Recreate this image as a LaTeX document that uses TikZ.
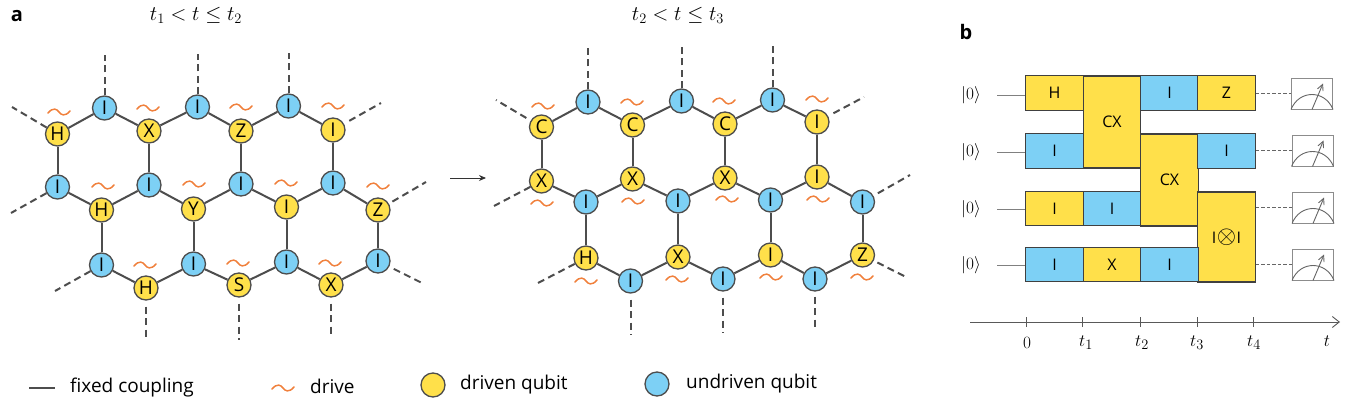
\documentclass[tikz,border=0pt]{standalone}
\usepackage{fontspec}
\setmainfont{Open Sans}
\usetikzlibrary{arrows.meta}
\definecolor{qy}{HTML}{FFE04A}
\definecolor{qb}{HTML}{7DD0F5}
\definecolor{edgec}{HTML}{4D4D4D}
\definecolor{orangec}{HTML}{F0803C}
\tikzset{
  x=1pt,y=-1pt,
  qubit/.style={circle,draw=edgec,line width=1.3pt,minimum size=24pt,inner sep=0pt,font=\fontsize{19}{19}\selectfont},
  dq/.style={qubit,fill=qy},
  uq/.style={qubit,fill=qb},
  coupling/.style={draw=edgec,line width=2pt},
  stubline/.style={draw=edgec,line width=2pt,dash pattern=on 7pt off 4.5pt},
  drive/.style={draw=orangec,line width=1.5pt,line cap=round},
  pics/wave/.style={code={\draw[drive] (-11,1) .. controls (-6,-5) and (-2,-3) .. (0,0) .. controls (2,3) and (6,5) .. (11,-1);}},
  gate/.style={draw=black!75,line width=1.1pt,inner sep=0pt,font=\fontsize{16}{16}\selectfont,anchor=center},
  gy/.style={gate,fill=qy},
  gb/.style={gate,fill=qb},
  ket/.style={inner sep=0pt,minimum width=52pt,font=\fontsize{19}{19}\selectfont},
  wire/.style={draw=black!50,line width=1pt},
  dwire/.style={draw=black!60,line width=1pt,dash pattern=on 3.5pt off 2pt},
  meter/.style={draw=black!45,line width=1pt,inner sep=0pt,minimum width=41pt,minimum height=31pt,fill=white},
  metermark/.style={draw=black!60,line width=.9pt},
  lab/.style={inner sep=0pt,font=\fontsize{19}{19}\selectfont},
  math/.style={inner sep=0pt,font=\fontsize{22}{22}\selectfont},
  ticklab/.style={inner sep=0pt,font=\fontsize{19}{19}\selectfont},
  panel/.style={inner sep=0pt,font=\fontsize{20}{20}\selectfont\bfseries},
}
\newcommand{\meterat}[3]{%
  \node[meter] (#1) at (#2,#3) {};
  \draw[metermark] (#1.south west) .. controls ([shift={(8,-20)}]#1.south west) and ([shift={(-8,-20)}]#1.south east) .. (#1.south east);
  \draw[metermark,-{Straight Barb[length=6pt,width=6pt]}] (#1.south) -- ([shift={(11,-26)}]#1.south);
}
\begin{document}
\begin{tikzpicture}
\useasboundingbox (0,0) rectangle (1347,407);
\node[panel] (pa) at (17,16) {a};
\node[panel] (pb) at (966,32) {b};
\node[math] (ta) at (196,15) {$t_1 < t \leq t_2$};
\node[math] (tb) at (678,15) {$t_2 < t \leq t_3$};

% left lattice
\node[uq] (a1) at (104.5,108) {I};
\node[uq] (a2) at (197.5,107) {I};
\node[uq] (a3) at (288.5,106) {I};
\node[dq] (b1) at (57.5,134) {H};
\node[dq] (b2) at (149,131) {X};
\node[dq] (b3) at (241,131) {Z};
\node[dq] (b4) at (333,130) {I};
\node[uq] (c1) at (57.5,187) {I};
\node[uq] (c2) at (149,185) {I};
\node[uq] (c3) at (241,184) {I};
\node[uq] (c4) at (333,183) {I};
\node[dq] (d1) at (101.5,210) {H};
\node[dq] (d2) at (193.5,209) {Y};
\node[dq] (d3) at (286.5,207) {I};
\node[dq] (d4) at (378,210) {Z};
\node[uq] (e1) at (101.5,265) {I};
\node[dq] (e2) at (146,288) {H};
\node[uq] (e3) at (193.5,264) {I};
\node[dq] (e4) at (239,285) {S};
\node[uq] (e5) at (286.5,262) {I};
\node[dq] (e6) at (331,285) {X};
\node[uq] (e7) at (378,261) {I};
\foreach \p/\q in {b1/a1,a1/b2,b2/a2,a2/b3,b3/a3,a3/b4,b1/c1,b2/c2,b3/c3,b4/c4,
  c1/d1,d1/c2,c2/d2,d2/c3,c3/d3,d3/c4,c4/d4,d1/e1,d2/e3,d3/e5,d4/e7,
  e1/e2,e2/e3,e3/e4,e4/e5,e5/e6,e6/e7}
  \draw[coupling] (\p) -- (\q);
\foreach \n/\x/\y in {a1l/104.5/55,a2l/197.5/54,a3l/288.5/53,b1l/12/107,b4l/381/103,c1l/11/213,d4l/426/182,e1l/55/291,e7l/422/283,e2l/146/341,e4l/239/340,e6l/331/338}
  \coordinate (\n) at (\x,\y);
\foreach \p/\q in {a1/a1l,a2/a2l,a3/a3l,e1/e1l,c1/c1l}
  \draw[stubline] (\p) -- (\q);
\draw[stubline] (b1) -- (b1l);
\draw[stubline,shorten <=6pt] (b4) -- (b4l);
\draw[stubline,shorten <=4pt] (d4) -- (d4l);
\draw[stubline,shorten <=5pt] (e7) -- (e7l);
\draw[stubline,shorten <=6pt] (e2) -- (e2l);
\draw[stubline,shorten <=6pt] (e4) -- (e4l);
\draw[stubline,shorten <=6pt] (e6) -- (e6l);
\foreach \x/\y in {59/112,148/108,241/107,333/106,103/186,194/184,286/183,378/186,145/265,238/263,330/263}
  \pic at (\x,\y) {wave};

% arrow
\coordinate (ars) at (450,178);
\coordinate (are) at (486,178);
\draw[-{Stealth[length=7pt,width=6pt]},line width=.9pt,draw=black!80] (ars) -- (are);

% right lattice
\node[uq] (f1) at (588,102) {I};
\node[uq] (f2) at (681.5,101) {I};
\node[uq] (f3) at (772.5,100) {I};
\node[dq] (g1) at (541.5,127) {C};
\node[dq] (g2) at (632.5,125) {C};
\node[dq] (g3) at (725,124) {C};
\node[dq] (g4) at (817,122) {I};
\node[dq] (h1) at (541.5,181) {X};
\node[dq] (h2) at (632.5,179) {X};
\node[dq] (h3) at (725,178) {X};
\node[dq] (h4) at (817,177) {I};
\node[uq] (i1) at (586,202) {I};
\node[uq] (i2) at (678,201) {I};
\node[uq] (i3) at (770.5,200) {I};
\node[uq] (i4) at (862.5,202) {I};
\node[dq] (j1) at (586,258) {H};
\node[uq] (j2) at (630.5,281) {I};
\node[dq] (j3) at (678,257) {X};
\node[uq] (j4) at (723,279) {I};
\node[dq] (j5) at (770.5,255) {I};
\node[uq] (j6) at (815,279) {I};
\node[dq] (j7) at (862.5,255) {Z};
\foreach \p/\q in {g1/f1,f1/g2,g2/f2,f2/g3,g3/f3,f3/g4,g1/h1,g2/h2,g3/h3,g4/h4,
  h1/i1,i1/h2,h2/i2,i2/h3,h3/i3,i3/h4,h4/i4,i1/j1,i2/j3,i3/j5,i4/j7,
  j1/j2,j2/j3,j3/j4,j4/j5,j5/j6,j6/j7}
  \draw[coupling] (\p) -- (\q);
\foreach \n/\x/\y in {f1l/588/48,f2l/681.5/47,f3l/772.5/46,g1l/496/100,g4l/864/97,h1l/494/206,i4l/910/175,j1l/538/283,j7l/906/277,j2l/630.5/335,j4l/723/333,j6l/815/330}
  \coordinate (\n) at (\x,\y);
\foreach \p/\q in {f1/f1l,f2/f2l,f3/f3l,h1/h1l,j1/j1l}
  \draw[stubline] (\p) -- (\q);
\draw[stubline,shorten <=5pt] (g1) -- (g1l);
\draw[stubline,shorten <=6pt] (g4) -- (g4l);
\draw[stubline,shorten <=5pt] (i4) -- (i4l);
\draw[stubline,shorten <=4pt] (j7) -- (j7l);
\draw[stubline,shorten <=6pt] (j2) -- (j2l);
\draw[stubline,shorten <=6pt] (j4) -- (j4l);
\draw[stubline,shorten <=5pt] (j6) -- (j6l);
\foreach \x/\y in {543/106,632/102,724/101,817/99,542/203,633/201,727/199,818/199,586/281,677/279,771/277,862/277}
  \pic at (\x,\y) {wave};

% circuit: wide gates
\node[gy,minimum width=57.5pt,minimum height=92pt] (cx1) at (1112,122) {CX};
\node[gy,minimum width=57.5pt,minimum height=92pt] (cx2) at (1169.5,180) {CX};
\node[gy,minimum width=57.5pt,minimum height=90pt] (ii) at (1226.5,237) {I\kern.5pt{\fontsize{23}{23}\selectfont$\otimes$}\kern.5pt I};
\foreach \n/\t/\k/\xc/\yc in {
  r1a/H/gy/1054.5/93, r1c/I/gb/1169.5/93, r1d/Z/gy/1226.5/93,
  r2a/I/gb/1054.5/151, r2d/I/gb/1226.5/151,
  r3a/I/gy/1054.5/208.5, r3b/I/gb/1112/208.5,
  r4a/I/gb/1054.5/264.5, r4b/X/gy/1112/264.5, r4c/I/gb/1169.5/264.5}
  \node[\k,minimum width=57.5pt,minimum height=34.5pt] (\n) at (\xc,\yc) {\t};
\foreach \n/\y in {k1/95,k2/152,k3/209,k4/265}
  \node[ket] (\n) at (971,\y) {$|0\rangle$};
\draw[wire] (k1.east) -- (k1.east -| r1a.west);
\draw[wire] (k2.east) -- (k2.east -| r2a.west);
\draw[wire] (k3.east) -- (k3.east -| r3a.west);
\draw[wire] (k4.east) -- (k4.east -| r4a.west);
\meterat{m1}{1312}{93.5}
\meterat{m2}{1312.5}{150.5}
\meterat{m3}{1313}{207.5}
\meterat{m4}{1313}{264.5}
\draw[dwire] (m1.west -| r1d.east) -- (m1.west);
\draw[dwire] (m2.west -| r2d.east) -- (m2.west);
\draw[dwire] (m3.west -| ii.east) -- (m3.west);
\draw[dwire] (m4.west -| ii.east) -- (m4.west);

% time axis
\coordinate (axs) at (970,322);
\coordinate (axe) at (1340,322);
\draw[draw=black!65,line width=.9pt,-{Straight Barb[length=7pt,width=11pt]}] (axs) -- (axe);
\foreach \n/\x/\t/\lx in {0/1026/0/1027,1/1082/t_1/1086,2/1140/t_2/1142,3/1197/t_3/1197,4/1253/t_4/1254}{
  \coordinate (tk\n) at (\x,322);
  \draw[draw=black!65,line width=.9pt] ([yshift=5pt]tk\n) -- ([yshift=-5pt]tk\n);
  \node[ticklab] (tl\n) at (\lx,343) {$\t$};
}
\node[ticklab] (tt) at (1327,341) {$t$};

% legend
\coordinate (ll1) at (29,388);
\coordinate (ll2) at (55,388);
\draw[coupling] (ll1) -- (ll2);
\node[lab,anchor=west] (lt1) at (70,388) {fixed coupling};
\pic at (283,388) {wave};
\node[lab,anchor=west] (lt2) at (310,386) {drive};
\node[dq] (lq1) at (433,385) {};
\node[lab,anchor=west] (lt3) at (460,385) {driven qubit};
\node[uq] (lq2) at (657,384) {};
\node[lab,anchor=west] (lt4) at (686,384) {undriven qubit};
\end{tikzpicture}
\end{document}
